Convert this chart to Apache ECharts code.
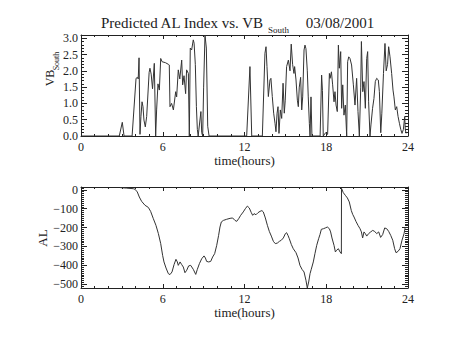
<!DOCTYPE html>
<html><head><meta charset="utf-8">
<script src="https://cdn.jsdelivr.net/npm/echarts@6/dist/echarts.min.js"></script>
<style>html,body{margin:0;padding:0;background:#fff}#c{width:454px;height:341px}</style>
</head><body><div id="c"></div>
<script>
// ---- data ----
const hourTicks = [0, 6, 12, 18, 24];
const vbTicks = [0, 0.5, 1, 1.5, 2, 2.5, 3];
const alTicks = [0, -100, -200, -300, -400, -500];

const vbHours = [0,2.81,3.03,3.16,3.75,4.04,4.15,4.20,4.26,4.33,4.40,4.48,4.55,4.62,4.72,4.82,5.00,5.06,5.15,5.25,5.38,5.48,5.55,5.65,5.75,5.85,5.95,6.20,6.41,6.48,6.53,6.65,6.78,6.95,7.02,7.14,7.25,7.39,7.46,7.56,7.68,7.75,7.88,7.95,8.02,8.12,8.24,8.30,8.39,8.47,8.54,8.60,8.80,8.86,8.93,9.00,9.10,9.20,9.30,9.40,12.16,12.40,12.53,13.31,13.50,13.58,13.65,13.75,13.87,13.94,14.04,14.14,14.24,14.31,14.39,14.46,14.53,14.63,14.73,14.83,14.92,14.99,15.09,15.22,15.34,15.43,15.53,15.63,15.68,15.78,15.88,15.95,16.02,16.12,16.20,16.27,16.37,16.44,16.51,16.61,16.68,16.76,16.81,16.88,16.95,17.55,17.66,17.72,17.78,17.95,18.10,18.23,18.28,18.38,18.47,18.57,18.64,18.72,18.81,18.89,18.96,19.06,19.13,19.21,19.30,19.40,19.50,19.57,19.65,19.74,19.86,19.99,20.11,20.23,20.33,20.43,20.53,20.58,20.68,20.77,20.87,20.97,21.04,21.11,21.21,21.28,21.40,21.50,21.60,21.70,21.82,21.90,22.00,22.08,22.20,22.31,22.40,22.50,22.58,22.68,22.80,22.90,22.97,23.07,23.17,23.27,23.37,23.47,23.56,23.66,23.76,23.80,23.86];
const vbValues = [0,0,0.42,0,0,1.77,1.80,1.75,2.40,0.05,0.6,1.05,0.9,0.49,0.28,0.6,1.95,2.08,1.90,1.45,2.23,0,0.8,1.6,1.41,2.38,2.28,2.25,2.20,2.18,0.9,1.0,0.8,1.36,1.2,2.03,1.75,2.33,1.57,1.85,1.3,2.03,1.92,0,2.7,2.64,2.95,2.85,2.2,0.9,0.2,0,0.75,0.1,0,1.5,3.1,2.7,0.3,0,0,2.13,0,0,2.54,2.74,2.13,1.21,1.72,1.77,1.21,0.7,0.39,0.13,0.7,0.9,0.08,0.8,0.54,1.62,0.7,1.1,2.13,2.33,2.0,2.82,2.2,1.92,2.13,1.72,1.1,0.9,1.5,1.8,0.8,1.2,2.64,2.79,2.68,2.0,1.2,0.39,0,1.2,0,0,1.87,1.4,0,0.1,0.05,1.92,1.77,1.97,1.57,1.05,1.36,0.95,0.75,2.79,2.08,2.59,0.85,1.57,0.64,0.95,0,2.28,2.43,2.38,2.18,1.57,0.95,1.77,0.75,0,1.5,2.90,1.36,1.67,0.85,2.38,2.59,1.05,0,0.34,0.85,1.15,1.67,1.77,1.72,1.36,0.1,0.7,1.92,2.84,2.0,2.2,2.74,2.43,1.92,1.41,1.2,0.8,0.9,0.6,0.39,0.2,0.08,0.2,0.6,0.2,0.08];

const alHours = [2.86,3.35,3.84,3.96,4.13,4.28,4.45,4.70,4.94,5.11,5.31,5.50,5.68,5.85,5.99,6.09,6.24,6.41,6.53,6.68,6.83,6.97,7.07,7.14,7.27,7.39,7.51,7.63,7.76,7.90,8.05,8.24,8.42,8.54,8.69,8.86,9.03,9.13,9.22,9.37,9.52,9.66,9.81,9.96,10.10,10.20,10.30,10.45,10.69,10.94,11.13,11.30,11.43,11.57,11.72,11.91,12.06,12.21,12.35,12.50,12.60,12.70,12.84,12.99,13.14,13.28,13.38,13.53,13.68,13.82,13.97,14.12,14.26,14.41,14.56,14.70,14.85,15.00,15.09,15.19,15.29,15.44,15.58,15.78,15.93,16.07,16.22,16.37,16.51,16.61,16.71,16.81,16.90,17.05,17.17,17.30,17.44,17.54,17.64,17.79,17.93,18.08,18.23,18.32,18.42,18.57,18.67,18.76,18.89,19.01,19.11,19.12,19.25,19.40,19.55,19.69,19.84,19.94,20.04,20.18,20.33,20.48,20.58,20.67,20.77,20.87,20.97,21.11,21.26,21.41,21.55,21.70,21.85,21.99,22.14,22.29,22.44,22.58,22.73,22.88,23.02,23.12,23.27,23.41,23.56,23.71,23.80];
const alValues = [12,9,6,3,-11,-38,-61,-82,-93,-114,-153,-188,-232,-285,-347,-382,-414,-444,-449,-435,-396,-368,-382,-400,-382,-396,-409,-439,-426,-403,-400,-421,-448,-421,-391,-365,-350,-361,-379,-382,-379,-356,-338,-294,-241,-197,-170,-162,-156,-151,-149,-162,-167,-153,-135,-117,-100,-86,-96,-121,-135,-126,-132,-121,-114,-110,-117,-149,-188,-220,-245,-273,-285,-282,-273,-267,-255,-232,-227,-241,-259,-290,-312,-333,-361,-400,-421,-435,-479,-520,-488,-444,-421,-382,-338,-294,-259,-237,-209,-206,-202,-197,-206,-223,-255,-294,-329,-320,-312,-329,-338,8,-15,-29,-43,-64,-110,-130,-144,-167,-188,-206,-223,-255,-223,-232,-245,-232,-223,-215,-220,-232,-223,-252,-237,-202,-206,-220,-241,-267,-312,-333,-326,-312,-267,-232,-197];

// ---- style ----
const FONT = '"Liberation Serif", serif';
const INK = '#222';
function steps(a, b, s) { const r = []; for (let v = a; v <= b + 1e-9; v += s) r.push(Math.round(v * 1000) / 1000); return r; }
const vbMinor = steps(0, 3.1, 0.1);
const alMinor = steps(-520, 10, 10);
const clone = o => JSON.parse(JSON.stringify(o));

function xAxes(grid) {
  const base = {
    gridIndex: grid, type: 'value', min: hourTicks[0], max: hourTicks[hourTicks.length - 1], interval: 6,
    splitLine: { show: false },
    axisLine: { show: true, onZero: false, lineStyle: { color: INK, width: 1 } },
    axisTick: { show: true, inside: true, length: 4, lineStyle: { color: INK } },
    minorTick: { show: true, splitNumber: 6, length: 2, lineStyle: { color: INK } }
  };
  const a = clone(base), b = clone(base);
  a.position = 'bottom';
  a.axisLabel = { show: true, margin: 5, fontFamily: FONT, fontSize: 12, color: INK };
  a.name = 'time(hours)'; a.nameLocation = 'middle'; a.nameGap = 15;
  a.nameTextStyle = { fontFamily: FONT, fontSize: 13, color: INK };
  b.position = 'top'; b.axisLabel = { show: false };
  return [a, b];
}
function yAxes(grid, min, max, major, minor, fmt) {
  const base = { gridIndex: grid, type: 'value', min: min, max: max, splitLine: { show: false } };
  const tickMaj = { show: true, inside: true, length: 6, customValues: major, lineStyle: { color: INK } };
  const tickMin = { show: true, inside: true, length: 3, customValues: minor, lineStyle: { color: INK } };
  const line = { show: true, onZero: false, lineStyle: { color: INK, width: 1 } };
  const ghost = { show: true, onZero: false, lineStyle: { color: 'rgba(0,0,0,0)', width: 1 } };
  const L = Object.assign(clone(base), { position: 'left', axisLine: clone(line), axisTick: clone(tickMaj),
    axisLabel: { show: true, customValues: major, formatter: fmt, margin: 3, fontFamily: FONT, fontSize: 12, color: INK } });
  const R = Object.assign(clone(base), { position: 'right', axisLine: clone(line), axisTick: clone(tickMaj), axisLabel: { show: false } });
  const Lm = Object.assign(clone(base), { position: 'left', axisLine: clone(ghost), axisTick: clone(tickMin), axisLabel: { show: false } });
  const Rm = Object.assign(clone(base), { position: 'right', axisLine: clone(ghost), axisTick: clone(tickMin), axisLabel: { show: false } });
  return [L, R, Lm, Rm];
}

const chart = echarts.init(document.getElementById('c'), null, { renderer: 'svg', width: 454, height: 341 });
const txt = (x, y, text, size, rot, align) => ({
  type: 'text', x: x, y: y, rotation: rot || 0, silent: true,
  style: { text: text, font: size + 'px ' + FONT, fill: INK, align: align || 'center', verticalAlign: 'middle',
           textAlign: align || 'center', textVerticalAlign: 'middle' }
});

chart.setOption({
  animation: false,
  backgroundColor: '#fff',
  grid: [
    { left: 81, top: 35, width: 327, height: 101 },
    { left: 81, top: 187, width: 327, height: 101 }
  ],
  xAxis: xAxes(0).concat(xAxes(1)),
  yAxis: yAxes(0, 0, 3.1, vbTicks, vbMinor, v => v.toFixed(1))
    .concat(yAxes(1, -520, 15, alTicks, alMinor, v => v === 0 ? '0' : '\u2212' + Math.abs(v))),
  series: [
    { type: 'line', xAxisIndex: 0, yAxisIndex: 0, showSymbol: false, symbol: 'none',
      lineStyle: { color: '#333', width: 1 }, data: vbHours.map((h, i) => [h, vbValues[i]]) },
    { type: 'line', xAxisIndex: 2, yAxisIndex: 4, showSymbol: false, symbol: 'none',
      lineStyle: { color: '#333', width: 1 }, data: alHours.map((h, i) => [h, alValues[i]]) }
  ],
  graphic: [
    txt(101, 23, 'Predicted AL Index vs. VB', 15, 0, 'left'),
    txt(268, 30, 'South', 9, 0, 'left'),
    txt(340, 23, '03/08/2001', 15, 0, 'center'),
    txt(50, 78, 'VB', 12, Math.PI / 2),
    txt(56, 61, 'South', 8, Math.PI / 2),
    txt(42, 238, 'AL', 13, Math.PI / 2)
  ]
});
</script></body></html>
